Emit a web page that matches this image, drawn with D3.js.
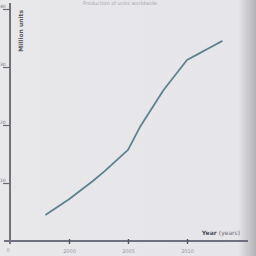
<!DOCTYPE html>
<html>
<head>
<meta charset="utf-8">
<script src="https://cdn.jsdelivr.net/npm/d3@7"></script>
<style>
  body { margin: 0; background: #e9e8eb; }
  svg { display: block; }
</style>
</head>
<body>
<div id="chart"></div>
<script>
(function () {

  // values
  var years = [1998, 2000, 2002, 2003, 2005, 2006, 2008, 2010, 2011, 2012, 2013];
  var units = [4.5, 7.2, 10.3, 12.0, 15.7, 19.6, 26.0, 31.2, 32.3, 33.4, 34.5];
  var xTicks = [2000, 2005, 2010];
  var yTicks = [10, 20, 30, 40];

  var width = 256, height = 256;

  var svg = d3.select("#chart")
    .append("svg")
    .attr("width", width)
    .attr("height", height);

  // paper with a darker fold on the right
  var grad = svg.append("defs").append("linearGradient")
    .attr("id", "paper")
    .attr("x1", "0").attr("x2", "1").attr("y1", "0").attr("y2", "0");
  grad.append("stop").attr("offset", "0").attr("stop-color", "#e8e7ea");
  grad.append("stop").attr("offset", "0.93").attr("stop-color", "#e6e5e9");
  grad.append("stop").attr("offset", "0.97").attr("stop-color", "#c9c9cd");
  grad.append("stop").attr("offset", "1").attr("stop-color", "#b4b4b8");

  svg.append("rect")
    .attr("width", width)
    .attr("height", height)
    .attr("fill", "url(#paper)");

  // year
  var xPositionScale = d3.scaleLinear()
    .domain([1995, 2015])
    .range([10, 246]);

  // units
  var yPositionScale = d3.scaleLinear()
    .domain([0, 40])
    .range([241, 9]);

  // faint title along the top edge
  svg.append("text")
    .attr("x", 120)
    .attr("y", 5)
    .attr("text-anchor", "middle")
    .attr("font-family", "DejaVu Sans")
    .attr("font-size", 5)
    .attr("fill", "#a4a4aa")
    .text("Production of units worldwide");

  var yAxis = d3.axisLeft(yPositionScale)
    .tickValues(yTicks)
    .tickSize(7)
    .tickPadding(2);

  var yG = svg.append("g")
    .attr("class", "axis y-axis")
    .attr("transform", "translate(10,0)")
    .call(yAxis);

  var xAxis = d3.axisBottom(xPositionScale)
    .tickValues(xTicks)
    .tickFormat(d3.format("d"))
    .tickSize(3)
    .tickPadding(5);

  var xG = svg.append("g")
    .attr("class", "axis x-axis")
    .attr("transform", "translate(0,241)")
    .call(xAxis);

  yG.select(".domain").attr("d", "M0,3V244").attr("stroke", "#55555a").attr("stroke-width", 1.6);
  yG.selectAll(".tick line").attr("stroke", "#6a6a70").attr("stroke-width", 1.2).attr("x2", -7);
  yG.selectAll(".tick text")
    .attr("fill", "#77777c")
    .attr("font-size", 4.5)
    .attr("font-family", "DejaVu Sans")
    .attr("text-anchor", "start")
    .attr("x", -10)
    .attr("dy", "-0.4em");

  xG.select(".domain").attr("d", "M4,0H248").attr("stroke", "#6f7180").attr("stroke-width", 2);
  xG.selectAll(".tick line").attr("y1", -2).attr("stroke", "#55555c").attr("stroke-width", 1.4);
  xG.selectAll(".tick text").attr("fill", "#9a9aa2").attr("font-size", 5).attr("font-family", "DejaVu Sans");

  svg.append("text")
    .attr("x", 8)
    .attr("y", 252)
    .attr("text-anchor", "middle")
    .attr("font-family", "DejaVu Sans")
    .attr("font-size", 5)
    .attr("fill", "#9a9aa2")
    .text("0");

  // axis titles
  svg.append("text")
    .attr("transform", "translate(23,10) rotate(-90)")
    .attr("text-anchor", "end")
    .attr("font-family", "DejaVu Sans")
    .attr("font-size", 6)
    .attr("font-weight", "bold")
    .attr("fill", "#5a5a60")
    .text("Million units");

  var xt = svg.append("text")
    .attr("x", 240)
    .attr("y", 235)
    .attr("text-anchor", "end")
    .attr("font-family", "DejaVu Sans")
    .attr("font-size", 6)
    .attr("fill", "#6a6a72");
  xt.append("tspan").attr("font-weight", "bold").attr("fill", "#4f4f58").text("Year ");
  xt.append("tspan").text("(years)");

  var line = d3.line()
    .x(function (d, i) { return xPositionScale(years[i]); })
    .y(function (d) { return yPositionScale(d); });

  svg.append("path")
    .datum(units)
    .attr("d", line)
    .attr("fill", "none")
    .attr("stroke", "#5e8290")
    .attr("stroke-width", 1.8)
    .attr("stroke-linejoin", "round");

})()
</script>
</body>
</html>
